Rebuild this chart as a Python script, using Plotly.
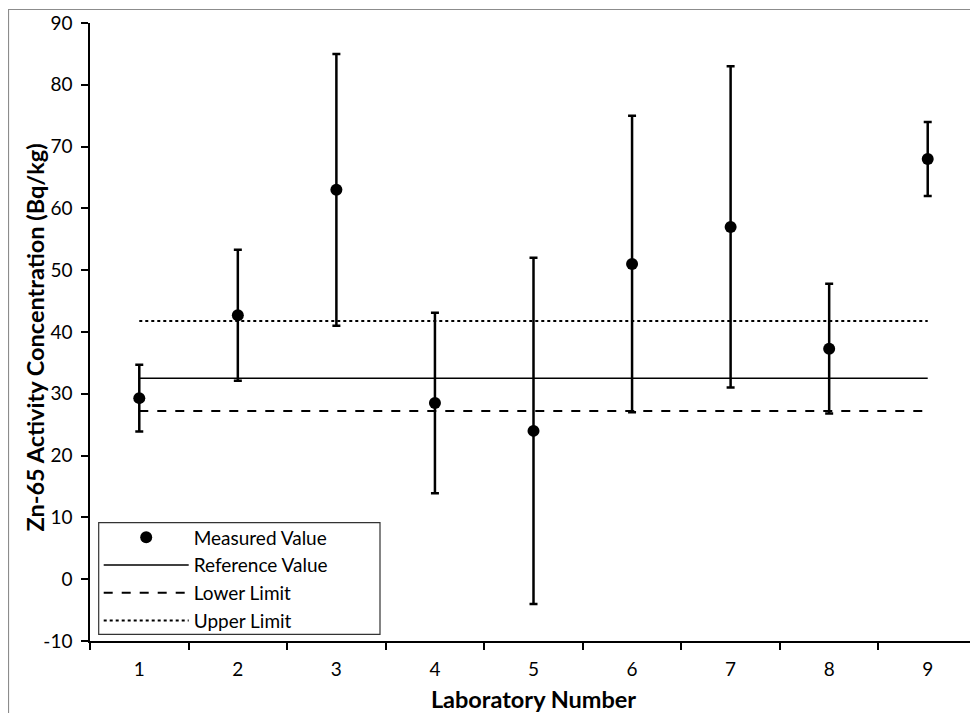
import plotly.graph_objects as go

labs = ["1", "2", "3", "4", "5", "6", "7", "8", "9"]
measured = [29.3, 42.7, 63.0, 28.5, 24.0, 51.0, 57.0, 37.3, 68.0]
err_upper = [34.7, 53.3, 85.0, 43.1, 52.0, 75.0, 83.0, 47.8, 74.0]
err_lower = [23.9, 32.1, 41.0, 13.9, -4.0, 27.0, 31.0, 26.8, 62.0]
reference_value = 32.5
lower_limit = 27.2
upper_limit = 41.8
y_ticks = [-10, 0, 10, 20, 30, 40, 50, 60, 70, 80, 90]
y_tick_labels = ["-10", "0", "10", "20", "30", "40", "50", "60", "70", "80", "90"]

font_family = "Lato, 'Open Sans', sans-serif"

plus = [u - m for u, m in zip(err_upper, measured)]
minus = [m - l for m, l in zip(measured, err_lower)]

fig = go.Figure()
fig.add_trace(go.Scatter(
    x=labs, y=measured, mode="markers", name="Measured Value",
    marker=dict(color="black", size=12),
    error_y=dict(type="data", symmetric=False, array=plus, arrayminus=minus,
                 color="black", thickness=2.5, width=4),
))
ends = [labs[0], labs[-1]]
fig.add_trace(go.Scatter(x=ends, y=[reference_value] * 2, mode="lines",
                         name="Reference Value", line=dict(color="black", width=1.5)))
fig.add_trace(go.Scatter(x=ends, y=[lower_limit] * 2, mode="lines",
                         name="Lower Limit", line=dict(color="black", width=2, dash="dash")))
fig.add_trace(go.Scatter(x=ends, y=[upper_limit] * 2, mode="lines",
                         name="Upper Limit", line=dict(color="black", width=2, dash="dot")))

L, T, B, R = 82, 15, 80, 9
W, H = 978, 713
PW = W - L - R
PH = H - T - B
OFF = 8  # page offset of the figure


def px(xp):
    return (xp - OFF - L) / PW


def py(yp):
    return (T + PH - (yp - OFF)) / PH


fig.update_layout(
    width=W, height=H,
    margin=dict(l=L, r=R, t=T, b=B, autoexpand=False),
    paper_bgcolor="white", plot_bgcolor="white",
    font=dict(family=font_family, size=19, color="black"),
    showlegend=True,
    legend=dict(x=px(98.7), y=py(639.5),
                xanchor="left", yanchor="bottom",
                borderwidth=0, bgcolor="rgba(0,0,0,0)",
                font=dict(size=19), tracegroupgap=0, itemwidth=85),
    xaxis=dict(type="category", range=[-0.5, 8.5], tickson="boundaries",
               ticks="outside", ticklen=7, tickcolor="black", tickwidth=1.5,
               ticklabelstandoff=10, automargin=False,
               showline=True, linecolor="black", linewidth=1.5,
               showgrid=False, zeroline=False,
               title=dict(text="<b>Laboratory Number</b>", font=dict(size=23.5), standoff=13)),
    yaxis=dict(range=[-10, 90], tickmode="array", tickvals=y_ticks, ticktext=y_tick_labels,
               ticks="outside", ticklen=7, tickcolor="black", tickwidth=1.5,
               ticklabelstandoff=5, automargin=False,
               showline=True, linecolor="black", linewidth=1.5,
               showgrid=False, zeroline=False),
    annotations=[dict(text="<b>Zn-65 Activity Concentration (Bq/kg)</b>",
                      xref="paper", yref="paper",
                      x=px(34), y=py(337.5),
                      xanchor="center", yanchor="middle", textangle=-90,
                      showarrow=False, font=dict(size=23.5))],
    shapes=[
        dict(type="rect", xref="paper", yref="paper",
             x0=(0.5 - L) / PW, x1=(W + 5 - L) / PW,
             y0=-(B + 5) / PH, y1=(PH + T - 1.5) / PH,
             line=dict(color="#8c8c8c", width=1.2), fillcolor="rgba(0,0,0,0)", layer="below"),
        dict(type="rect", xref="paper", yref="paper",
             x0=px(98.7), x1=px(380), y0=py(634.3), y1=py(522.7),
             line=dict(color="#333333", width=1.2), fillcolor="white", layer="above"),
    ],
)

fig.write_html("out.html")
